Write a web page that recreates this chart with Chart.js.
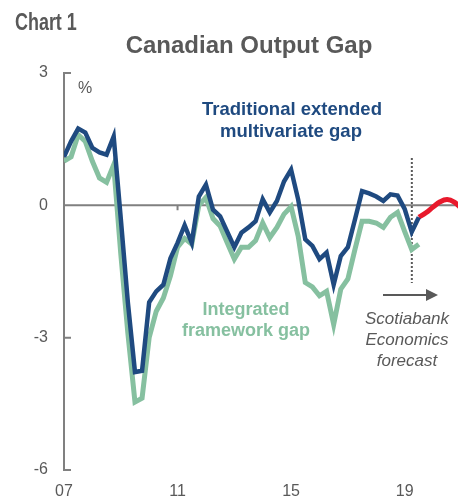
<!DOCTYPE html>
<html>
<head>
<meta charset="utf-8">
<script src="https://cdn.jsdelivr.net/npm/chart.js@4.4.1/dist/chart.umd.min.js"></script>
<style>
html, body { margin: 0; padding: 0; background: #fff; }
</style>
</head>
<body>
<canvas id="chart" width="458" height="498"></canvas>
<script>
// quarterly output gap, % of potential, starting 2007Q1
const startYear = 2007;
const traditionalGap = [
    1.1, 1.45, 1.74, 1.65, 1.3, 1.2, 1.15, 1.56,
    -0.3, -2.2, -3.78, -3.75, -2.2, -1.95, -1.8, -1.2,
    -0.85, -0.45, -0.85, 0.2, 0.47, -0.1, -0.25, -0.6,
    -0.95, -0.62, -0.5, -0.36, 0.14, -0.16, 0.1, 0.54,
    0.81, 0.13, -0.77, -0.92, -1.22, -1.07, -1.8, -1.15,
    -0.95, -0.32, 0.32, 0.27, 0.2, 0.1, 0.25, 0.22,
    -0.08, -0.6, -0.27
];
const integratedGap = [
    1.0, 1.1, 1.6, 1.45, 1.0, 0.62, 0.52, 0.92,
    -1.1, -2.9, -4.46, -4.37, -3.0, -2.4, -2.1, -1.6,
    -0.95, -0.75, -0.88, 0.0, 0.18, -0.3, -0.47, -0.85,
    -1.22, -0.95, -0.95, -0.8, -0.4, -0.73, -0.5, -0.2,
    -0.03, -0.7, -1.75, -1.85, -2.05, -1.95, -2.7, -1.9,
    -1.67, -1.0, -0.36, -0.36, -0.4, -0.5, -0.27, -0.16,
    -0.59, -1.0, -0.88
];
// Scotiabank Economics forecast, from 2019Q3
const forecastStart = 2019.5;
const forecastGap = [-0.27, -0.17, -0.04, 0.08, 0.13, 0.07, -0.07];

const yearTicks = [2007, 2011, 2015, 2019];
const valueTicks = [3, 0, -3, -6];

const BLUE = '#1f4a80';
const GREEN = '#86c0a0';
const RED = '#e8192c';
const GREY = '#595959';
const AXIS = '#808080';
const FONT = '"Liberation Sans", Arial, sans-serif';

function toPoints(values, from) {
    return values.map((v, i) => ({ x: from + i / 4, y: v }));
}

const annotations = {
    id: 'annotations',
    beforeDatasetsDraw(chart) {
        const { ctx, chartArea, scales: { x, y } } = chart;
        const left = chartArea.left;
        const y0 = y.getPixelForValue(0);
        ctx.save();
        ctx.strokeStyle = AXIS;
        ctx.lineWidth = 2;
        ctx.beginPath();
        ctx.moveTo(left, y.getPixelForValue(3) - 1);
        ctx.lineTo(left, y.getPixelForValue(-6) + 1);
        valueTicks.forEach(v => {
            const py = y.getPixelForValue(v);
            ctx.moveTo(left, py);
            ctx.lineTo(left + 7, py);
        });
        ctx.moveTo(left, y0);
        ctx.lineTo(chartArea.right, y0);
        yearTicks.slice(1).forEach(yr => {
            const px = x.getPixelForValue(yr);
            ctx.moveTo(px, y0);
            ctx.lineTo(px, y0 + 5);
        });
        ctx.stroke();

        // forecast divider
        const fx = x.getPixelForValue(forecastStart);
        ctx.setLineDash([2, 2]);
        ctx.lineWidth = 2;
        ctx.strokeStyle = GREY;
        ctx.beginPath();
        ctx.moveTo(fx - 7, 158);
        ctx.lineTo(fx - 7, 283);
        ctx.stroke();
        ctx.restore();
    },
    afterDraw(chart) {
        const { ctx } = chart;
        ctx.save();
        ctx.textBaseline = 'alphabetic';

        // narrow bold heading
        ctx.fillStyle = GREY;
        ctx.textAlign = 'left';
        ctx.font = 'bold 23px ' + FONT;
        ctx.save();
        ctx.translate(15, 30);
        ctx.scale(0.78, 1);
        ctx.fillText('Chart 1', 0, 0);
        ctx.restore();

        ctx.textAlign = 'center';
        ctx.font = 'bold 24px ' + FONT;
        ctx.fillText('Canadian Output Gap', 249, 53);

        ctx.textAlign = 'left';
        ctx.font = '16px ' + FONT;
        ctx.fillText('%', 78, 93);

        ctx.textAlign = 'center';
        ctx.fillStyle = BLUE;
        ctx.font = 'bold 18.5px ' + FONT;
        ctx.fillText('Traditional extended', 292, 115);
        ctx.fillText('multivariate gap', 291, 137);

        ctx.fillStyle = GREEN;
        ctx.font = 'bold 18px ' + FONT;
        ctx.fillText('Integrated', 246, 315);
        ctx.fillText('framework gap', 246, 336);

        ctx.fillStyle = GREY;
        ctx.font = 'italic 17px ' + FONT;
        ctx.fillText('Scotiabank', 407, 324);
        ctx.fillText('Economics', 407, 345);
        ctx.fillText('forecast', 407, 366);

        // arrow
        ctx.strokeStyle = GREY;
        ctx.lineWidth = 2;
        ctx.beginPath();
        ctx.moveTo(383, 295);
        ctx.lineTo(428, 295);
        ctx.stroke();
        ctx.beginPath();
        ctx.moveTo(438, 295);
        ctx.lineTo(426, 289);
        ctx.lineTo(426, 301);
        ctx.closePath();
        ctx.fill();
        ctx.restore();
    }
};

new Chart(document.getElementById('chart'), {
    type: 'line',
    data: {
        datasets: [
            {
                label: 'Traditional extended multivariate gap',
                data: toPoints(traditionalGap, startYear),
                borderColor: BLUE,
                borderWidth: 4.5,
                tension: 0
            },
            {
                label: 'Scotiabank Economics forecast',
                data: toPoints(forecastGap, forecastStart),
                borderColor: RED,
                borderWidth: 5,
                tension: 0.4
            },
            {
                label: 'Integrated framework gap',
                data: toPoints(integratedGap, startYear),
                borderColor: GREEN,
                borderWidth: 5,
                tension: 0
            }
        ]
    },
    options: {
        responsive: false,
        animation: false,
        devicePixelRatio: 1,
        layout: { padding: { top: 73, right: 0, bottom: 0, left: 0 } },
        elements: {
            point: { radius: 0 },
            line: { borderCapStyle: 'butt', borderJoinStyle: 'miter' }
        },
        plugins: {
            legend: { display: false },
            tooltip: { enabled: false }
        },
        scales: {
            x: {
                type: 'linear',
                min: 2007,
                max: 2020.88,
                grid: { display: false, drawTicks: false },
                border: { display: false },
                afterBuildTicks(scale) {
                    scale.ticks = yearTicks.map(v => ({ value: v }));
                },
                afterFit(scale) {
                    scale.height = 28;
                },
                ticks: {
                    padding: 12,
                    color: GREY,
                    font: { family: FONT, size: 16 },
                    maxRotation: 0,
                    callback: v => String(v).slice(2)
                }
            },
            y: {
                min: -6,
                max: 3,
                grid: { display: false, drawTicks: false },
                border: { display: false },
                afterBuildTicks(scale) {
                    scale.ticks = valueTicks.map(v => ({ value: v }));
                },
                afterFit(scale) {
                    scale.width = 64;
                },
                ticks: {
                    padding: 16,
                    color: GREY,
                    font: { family: FONT, size: 16 }
                }
            }
        }
    },
    plugins: [annotations]
});
</script>
</body>
</html>
